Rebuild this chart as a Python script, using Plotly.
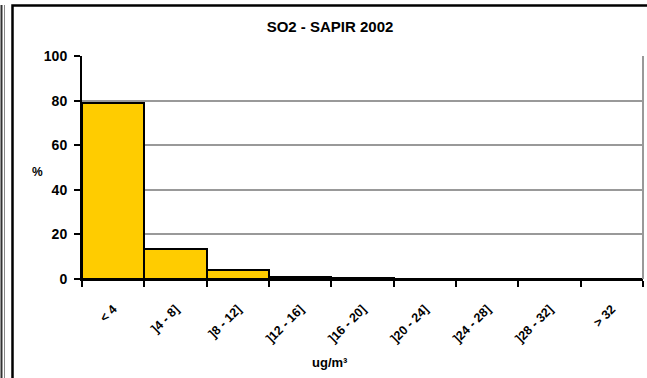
import plotly.graph_objects as go

categories = ["< 4", "]4 - 8]", "]8 - 12]", "]12 - 16]", "]16 - 20]", "]20 - 24]", "]24 - 28]", "]28 - 32]", "> 32"]
values = [79.0, 13.3, 4.1, 1.1, 0.4, 0.0, 0.0, 0.0, 0.0]
y_ticks = [0, 20, 40, 60, 80, 100]

W, H = 647, 378
L, R, T, B = 82, 4, 56, 99
pw, ph = W - L - R, H - T - B

def px(x):
    return (x - L) / pw

def py(y):
    return (H - B - y) / ph

FONT = "Liberation Sans, Arial, sans-serif"

fig = go.Figure()
fig.add_trace(go.Bar(
    x=categories, y=values,
    marker=dict(color="#FFCC00", line=dict(color="black", width=2)),
    width=1.0,
))

fig.update_layout(
    width=W, height=H,
    margin=dict(l=L, r=R, t=T, b=B, pad=0, autoexpand=False),
    paper_bgcolor="white", plot_bgcolor="white",
    showlegend=False, bargap=0,
    font=dict(family=FONT, color="black"),
    title=dict(text="SO2 - SAPIR 2002", x=px(330), xref="paper", xanchor="center",
               y=1 - 27 / H, yanchor="middle", font=dict(size=15, family=FONT, weight="bold"),
               automargin=False),
    xaxis=dict(
        type="category", tickson="boundaries", ticks="outside", ticklen=6, tickwidth=2, tickcolor="black",
        showline=True, linecolor="black", linewidth=2, showgrid=False, automargin=False,
        tickangle=-45, tickfont=dict(size=12.5, family=FONT, weight="bold"), range=[-0.5, 8.5],
        ticklabelstandoff=16,
    ),
    yaxis=dict(
        range=[0, 100], tickvals=y_ticks, ticks="outside", ticklen=6, tickwidth=2, tickcolor="black",
        showline=True, linecolor="black", linewidth=2, showgrid=True, gridcolor="#999999", gridwidth=2,
        tickfont=dict(size=14, family=FONT, weight="bold"), zeroline=False, automargin=False,
        ticklabelstandoff=4,
    ),
    shapes=[
        dict(type="rect", xref="paper", yref="paper", x0=px(12.5), x1=px(700), y0=py(390), y1=py(5.5),
             line=dict(color="black", width=2.5), layer="below"),
        dict(type="line", xref="paper", yref="paper", x0=px(1.5), x1=px(1.5), y0=py(390), y1=py(5),
             line=dict(color="#333333", width=2)),
        dict(type="line", xref="paper", yref="paper", x0=px(4.5), x1=px(4.5), y0=py(390), y1=py(5),
             line=dict(color="#888888", width=1)),
        dict(type="line", xref="paper", yref="paper", x0=1, x1=1, y0=0, y1=1,
             line=dict(color="#999999", width=2)),
    ],
    annotations=[
        dict(text="%", xref="paper", yref="paper", x=px(37), y=py(172), showarrow=False,
             xanchor="center", yanchor="middle", font=dict(size=12, family=FONT, weight="bold")),
        dict(text="ug/m³", xref="paper", yref="paper", x=px(330), y=py(362), showarrow=False,
             xanchor="center", yanchor="middle", font=dict(size=13, family=FONT, weight="bold")),
    ],
)

fig.write_html("out.html", post_script="document.body.style.margin='0';",
               config={"displayModeBar": False})
